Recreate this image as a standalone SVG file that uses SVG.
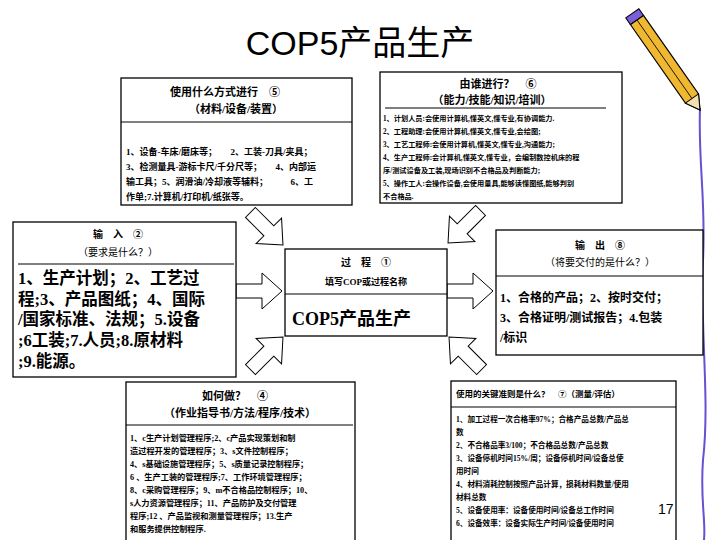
<svg xmlns="http://www.w3.org/2000/svg" width="720" height="540" viewBox="0 0 720 540">
<defs>
<style>
.box{fill:#fff;stroke:#000;stroke-width:1.3}
.div{stroke:#000;stroke-width:1}
.t{font-family:"Liberation Serif","Noto Sans CJK SC",serif;fill:#000}
.b{font-weight:bold}
.arr{fill:#fff;stroke:#000;stroke-width:1}
</style>
<path id="ar" d="M-22,-7 L4,-7 L4,-18 L24,0 L4,18 L4,7 L-22,7 Z"/>
</defs>
<rect width="720" height="540" fill="#fff"/>
<text x="360" y="55" text-anchor="middle" class="t" style="font-family:'Liberation Sans','Noto Sans CJK SC',sans-serif" font-size="34">COP5产品生产</text>

<g id="pencil">
<path d="M700,108 C698,160 706,200 703,260 C700,330 710,400 703,460 C700,500 706,520 704,540" fill="none" stroke="#6a4fd0" stroke-width="2"/>
<g transform="translate(700,110) rotate(-35)">
<polygon points="0,0 -8,-14 -8,-110 8,-110 8,-14" fill="#f0b830" stroke="#000" stroke-width="1.2"/>
<line x1="0" y1="-14" x2="0" y2="-110" stroke="#000" stroke-width="0.8"/>
<rect x="-8" y="-118" width="16" height="8" fill="#7a60d8" stroke="#000" stroke-width="1"/>
<polygon points="0,0 -8,-14 8,-14" fill="#f5e0b0" stroke="#000" stroke-width="1"/>
</g>
</g>

<g id="connectors">
<use href="#ar" class="arr" transform="translate(266,228) rotate(45)"/>
<use href="#ar" class="arr" transform="translate(465,226) rotate(135)"/>
<use href="#ar" class="arr" transform="translate(258,291)"/>
<use href="#ar" class="arr" transform="translate(469,291)"/>
<use href="#ar" class="arr" transform="translate(266,354) rotate(-45)"/>
<use href="#ar" class="arr" transform="translate(466,354) rotate(-135)"/>
</g>

<g id="materials">
<rect class="box" x="121" y="78" width="231" height="127"/>
<line class="div" x1="121" y1="122" x2="352" y2="122"/>
<text x="225" y="96" text-anchor="middle" class="t b" font-size="11">使用什么方式进行　⑤</text>
<text x="236" y="113" text-anchor="middle" class="t b" font-size="11">（材料/设备/装置）</text>
<text class="t b" font-size="9"><tspan x="126" y="155">1、设备-车床/磨床等；　　2、工装-刀具/夹具；</tspan><tspan x="126" y="170">3、检测量具-游标卡尺/千分尺等；　　4、内部运</tspan><tspan x="126" y="185">输工具；5、润滑油/冷却液等辅料；　　　6、工</tspan><tspan x="126" y="200">作单;7.计算机/打印机/纸张等。</tspan></text>
</g>

<g id="who">
<rect class="box" x="380" y="72" width="242" height="131"/>
<line class="div" x1="385" y1="108" x2="606" y2="108"/>
<text x="498" y="88" text-anchor="middle" class="t b" font-size="11">由谁进行？　⑥</text>
<text x="492" y="104" text-anchor="middle" class="t b" font-size="11">（能力/技能/知识/培训）</text>
<text class="t b" font-size="7.2"><tspan x="383" y="121">1、计划人员:会使用计算机,懂英文,懂专业,有协调能力.</tspan><tspan x="383" y="134">2、工程助理:会使用计算机,懂英文,懂专业,会绘图;</tspan><tspan x="383" y="147">3、工艺工程师:会使用计算机,懂英文,懂专业,沟通能力;</tspan><tspan x="383" y="160">4、生产工程师:会计算机,懂英文,懂专业，会编制数控机床的程</tspan><tspan x="383" y="173">序/测试设备及工装,现场识别不合格品及判断能力;</tspan><tspan x="383" y="186">5、操作工人:会操作设备,会使用量具,能够读懂图纸,能够判别</tspan><tspan x="383" y="199">不合格品.</tspan></text>
</g>

<g id="input">
<rect class="box" x="13" y="222" width="223" height="155"/>
<line class="div" x1="18" y1="264" x2="234" y2="264"/>
<text x="118" y="238" text-anchor="middle" class="t b" font-size="10">输　入　②</text>
<text x="118" y="256" text-anchor="middle" class="t" font-size="10">（要求是什么？）</text>
<text class="t b" font-size="16.5"><tspan x="18" y="284">1、生产计划；2、工艺过</tspan><tspan x="18" y="305">程;3、产品图纸；4、国际</tspan><tspan x="18" y="325">/国家标准、法规；5.设备</tspan><tspan x="18" y="346">;6工装;7.人员;8.原材料</tspan><tspan x="18" y="367">;9.能源。</tspan></text>
</g>

<g id="process">
<rect class="box" x="285" y="249" width="162" height="87"/>
<line class="div" x1="285" y1="294" x2="447" y2="294"/>
<text x="366" y="266" text-anchor="middle" class="t b" font-size="10">过　程　①</text>
<text x="366" y="285" text-anchor="middle" class="t b" font-size="9">填写COP或过程名称</text>
<text x="292" y="325" class="t b" font-size="18">COP5产品生产</text>
</g>

<g id="output">
<rect class="box" x="496" y="230" width="207" height="125"/>
<line class="div" x1="496" y1="276" x2="703" y2="276"/>
<text x="600" y="249" text-anchor="middle" class="t b" font-size="10">输　出　⑧</text>
<text x="600" y="266" text-anchor="middle" class="t" font-size="10">（将要交付的是什么？）</text>
<text class="t b" font-size="12"><tspan x="500" y="302">1、合格的产品；2、按时交付；</tspan><tspan x="500" y="322">3、合格证明/测试报告；4.包装</tspan><tspan x="500" y="342">/标识</tspan></text>
</g>

<g id="how">
<rect class="box" x="126" y="382" width="229" height="160"/>
<line class="div" x1="126" y1="425" x2="353" y2="425"/>
<text x="235" y="400" text-anchor="middle" class="t b" font-size="11">如何做？　④</text>
<text x="240" y="417" text-anchor="middle" class="t b" font-size="11">（作业指导书/方法/程序/技术）</text>
<text class="t b" font-size="8.2"><tspan x="130" y="441">1、c生产计划管理程序;2、c产品实现策划和制</tspan><tspan x="130" y="454">造过程开发的管理程序；3、s文件控制程序；</tspan><tspan x="130" y="467">4、s基础设施管理程序；5、s质量记录控制程序；</tspan><tspan x="130" y="480">6 、生产工装的管理程序;7、工作环境管理程序；</tspan><tspan x="130" y="493">8、c采购管理程序；9、m不合格品控制程序；10、</tspan><tspan x="130" y="506">s人力资源管理程序；11、产品防护及交付管理</tspan><tspan x="130" y="519">程序;12 、产品监视和测量管理程序；13.生产</tspan><tspan x="130" y="532">和服务提供控制程序.</tspan></text>
</g>

<g id="measure">
<rect class="box" x="451" y="381" width="225" height="162"/>
<line class="div" x1="451" y1="407" x2="676" y2="407"/>
<text x="456" y="397" class="t b" font-size="8.5">使用的关键准则是什么？　⑦（测量/评估）</text>
<text class="t b" font-size="7.6"><tspan x="456" y="422">1、加工过程一次合格率97%；合格产品总数/产品总</tspan><tspan x="456" y="435">数</tspan><tspan x="456" y="448">2、不合格品率3/100；不合格品总数/产品总数</tspan><tspan x="456" y="461">3、设备停机时间15%/周；设备停机时间/设备总使</tspan><tspan x="456" y="474">用时间</tspan><tspan x="456" y="487">4、材料消耗控制按照产品计算，损耗材料数量/使用</tspan><tspan x="456" y="500">材料总数</tspan><tspan x="456" y="513">5、设备使用率：设备使用时间/设备总工作时间</tspan><tspan x="456" y="526">6、设备效率：设备实际生产时间/设备使用时间</tspan></text>
<text x="658" y="514" class="t" style="font-family:'Liberation Sans',sans-serif" font-size="14">17</text>
</g>
</svg>
